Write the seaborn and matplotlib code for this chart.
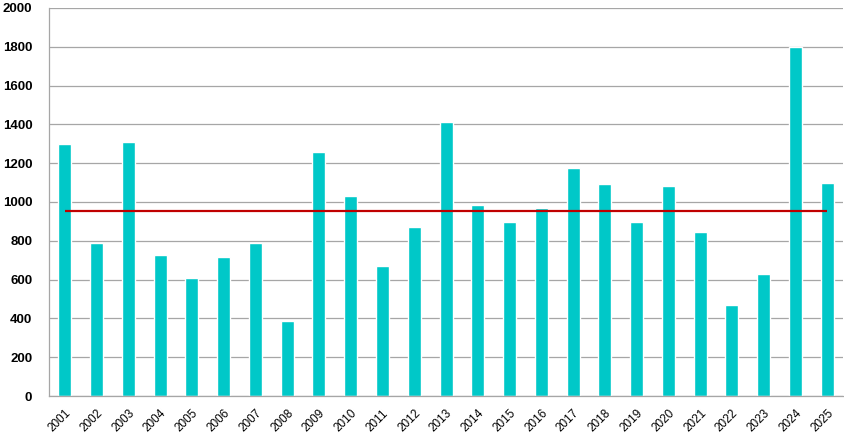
import pandas as pd
import numpy as np
import matplotlib
matplotlib.use('Agg')
import matplotlib.pyplot as plt
import seaborn as sns

# datos
years = [str(y) for y in range(2001, 2026)]
values = [1300, 790, 1310, 727, 609, 717, 790, 387, 1259, 1032, 671, 872,
          1414, 985, 898, 970, 1176, 1094, 898, 1083, 846, 469, 629, 1800, 1099]
avg_line = 955

df = pd.DataFrame({'year': years, 'value': values})

sns.set_style('white')
plt.rcParams['font.family'] = ['Liberation Sans', 'DejaVu Sans']

fig = plt.figure(figsize=(8.44, 4.42), dpi=100)
ax = fig.add_axes([0.058, 0.104, 0.941, 0.878])

sns.barplot(data=df, x='year', y='value', color='#00C8C8', width=0.41,
            saturation=1, ax=ax, zorder=2)

# linea del promedio
ax.hlines(avg_line, 0, len(years) - 1, color='#C00000', linewidth=1.6, zorder=3)

ax.set_ylim(0, 2000)
ax.set_xlim(-0.5, len(years) - 0.5)
ax.set_yticks(range(0, 2001, 200))
ax.yaxis.grid(True, color='#A6A6A6', linewidth=0.9)
ax.set_axisbelow(True)
ax.set_xlabel('')
ax.set_ylabel('')

for s in ['top', 'right']:
    ax.spines[s].set_visible(False)
for s in ['left', 'bottom']:
    ax.spines[s].set_color('#A6A6A6')
    ax.spines[s].set_linewidth(0.9)

ax.tick_params(axis='y', length=0, pad=12, labelsize=9.5, labelcolor='black')
for lbl in ax.get_yticklabels():
    lbl.set_fontweight('bold')
ax.tick_params(axis='x', length=0, pad=8, labelsize=8.5, labelcolor='black')
plt.setp(ax.get_xticklabels(), rotation=45, ha='right', rotation_mode='anchor')

fig.savefig('out.png', dpi=100)
